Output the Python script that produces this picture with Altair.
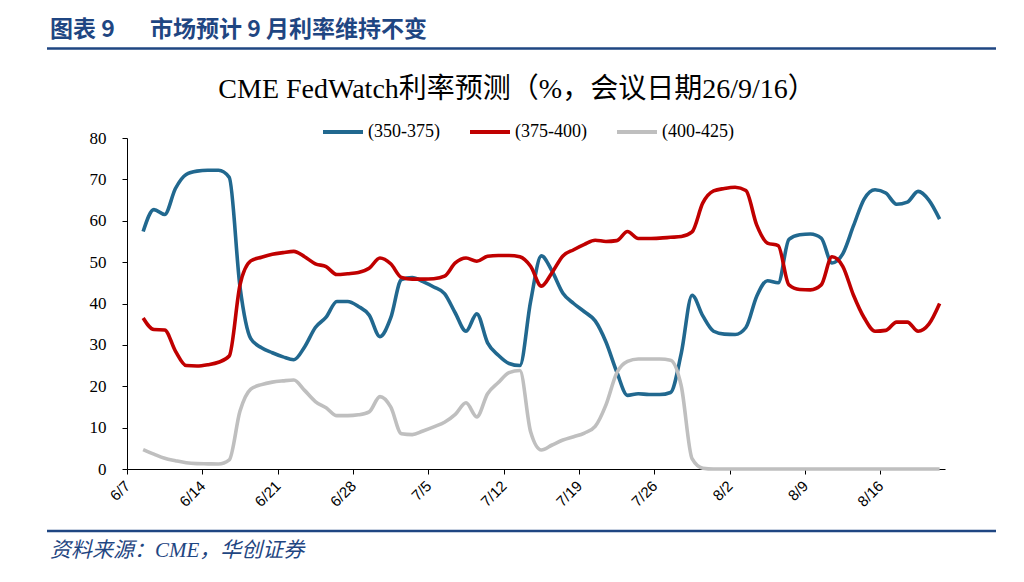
import altair as alt
import pandas as pd

# ---- data ----
dates = pd.date_range("2025-06-08", "2025-08-21", freq="D")
series_names = ["(350-375)", "(375-400)", "(400-425)"]
colors = ["#21688F", "#C00000", "#BFBFBF"]

p350_375 = [57.4, 62.7, 61.5, 67.8, 71.2, 72.0, 72.2, 72.2, 70.5, 44.0,
            31.5, 29.3, 28.1, 27.1, 26.4, 29.5, 34.2, 36.7, 40.5, 40.5,
            39.3, 37.2, 32.0, 36.5, 45.8, 46.3, 45.3, 44.0, 42.4, 37.7,
            33.3, 37.5, 30.5, 27.5, 25.5, 25.0, 40.5, 51.5, 47.8, 42.5,
            40.0, 38.0, 35.8, 30.7, 23.5, 17.8, 18.2, 18.0, 18.0, 18.5,
            28.0, 42.0, 37.0, 33.3, 32.6, 32.5, 34.2, 41.7, 45.5, 45.0,
            55.5, 56.6, 56.8, 55.8, 49.8, 52.0, 58.8, 65.3, 67.5, 66.7,
            64.0, 64.5, 67.1, 65.0, 60.4]
p375_400 = [36.5, 33.7, 33.6, 28.5, 25.0, 24.9, 25.2, 25.8, 27.3, 44.5,
            50.3, 51.2, 51.9, 52.3, 52.6, 51.3, 49.6, 48.9, 47.0, 47.2,
            47.5, 48.5, 51.0, 49.6, 46.3, 45.9, 45.9, 46.0, 46.6, 49.8,
            51.0, 50.2, 51.4, 51.6, 51.6, 51.3, 49.0, 44.2, 47.5, 51.5,
            53.0, 54.3, 55.3, 55.0, 55.2, 57.4, 55.7, 55.7, 55.8, 56.0,
            56.2, 57.3, 64.3, 67.2, 67.8, 68.1, 67.3, 59.0, 54.6, 54.0,
            44.5, 43.4, 43.3, 44.5, 51.3, 49.0, 42.0, 36.5, 33.3, 33.5,
            35.5, 35.5, 33.3, 35.0, 40.0]
p400_425 = [4.7, 3.6, 2.6, 2.0, 1.5, 1.3, 1.25, 1.2, 2.2, 14.0,
            19.3, 20.4, 21.0, 21.3, 21.5, 19.0, 16.3, 14.8, 12.9, 12.9,
            13.1, 13.8, 17.5, 15.0, 8.5, 8.3, 9.2, 10.2, 11.3, 13.2,
            16.0, 12.6, 18.2, 20.9, 23.3, 23.8, 9.0, 4.6, 5.8, 7.0,
            7.8, 8.7, 10.3, 15.5, 23.2, 26.0, 26.6, 26.6, 26.6, 26.3,
            20.0, 2.5, 0.2, 0.0, 0.0, 0.0, 0.0, 0.0, 0.0, 0.0,
            0.0, 0.0, 0.0, 0.0, 0.0, 0.0, 0.0, 0.0, 0.0, 0.0,
            0.0, 0.0, 0.0, 0.0, 0.0]

tick_days = [(6, 7), (6, 14), (6, 21), (6, 28), (7, 5), (7, 12), (7, 19),
             (7, 26), (8, 2), (8, 9), (8, 16)]
y_ticks = [0, 10, 20, 30, 40, 50, 60, 70, 80]

header_left = "图表 9"
header_right = "市场预计 9 月利率维持不变"
chart_title = "CME FedWatch利率预测（%，会议日期26/9/16）"
source_text = "资料来源：CME，华创证券"

# ---- build table ----
rows = []
for name, vals in zip(series_names, [p350_375, p375_400, p400_425]):
    for d, v in zip(dates, vals):
        # Excel date axis: each point sits in the middle of its day
        t = (d + pd.Timedelta(hours=12)).strftime("%Y-%m-%dT%H:%M:%S")
        rows.append({"date": t, "series": name, "value": v})
df = pd.DataFrame(rows)

navy = "#1F4682"
one = alt.Data(values=[{"k": 1}])

lines = alt.Chart(df).mark_line(interpolate="monotone", strokeWidth=3.6).encode(
    x=alt.X(
        "date:T",
        scale=alt.Scale(domain=[alt.DateTime(year=2025, month=6, date=7),
                                alt.DateTime(year=2025, month=8, date=22)]),
        axis=alt.Axis(
            values=[alt.DateTime(year=2025, month=m, date=d) for m, d in tick_days],
            format="%-m/%-d", title=None, grid=False,
            labelAngle=315, labelAlign="right", labelBaseline="middle",
            labelFont="Liberation Sans", labelFontSize=15, labelColor="black",
            labelPadding=9, tickSize=5, tickColor="black",
            domainColor="black", labelOverlap=False,
        ),
    ),
    y=alt.Y(
        "value:Q",
        scale=alt.Scale(domain=[0, 80], nice=False),
        axis=alt.Axis(
            values=y_ticks, title=None, grid=False,
            labelFont="Liberation Serif", labelFontSize=17, labelColor="black",
            labelPadding=16, tickSize=5, tickColor="black", domainColor="black",
        ),
    ),
    color=alt.Color(
        "series:N",
        scale=alt.Scale(domain=series_names, range=colors),
        legend=alt.Legend(
            title=None, orient="none", legendX=194, legendY=-28,
            direction="horizontal", symbolType="stroke", symbolSize=1600,
            symbolStrokeWidth=4, labelFont="Liberation Serif", labelFontSize=18,
            labelColor="black", labelOffset=3, columnPadding=22,
        ),
    ),
    order=alt.Order("series:N"),
)

def text_layer(txt, x, y, size, color, font, weight="normal", style="normal",
               align="left"):
    return alt.Chart(one).mark_text(
        text=txt, fontSize=size, color=color, font=font, fontWeight=weight,
        fontStyle=style, align=align, baseline="middle",
    ).encode(x=alt.value(x), y=alt.value(y))

def rule_layer(x1, x2, y, width, color):
    return alt.Chart(one).mark_rule(strokeWidth=width, color=color).encode(
        x=alt.value(x1), x2=alt.value(x2), y=alt.value(y))

hdr_font = "Noto Sans CJK SC"
layers = [
    text_layer(header_left, -77, -108, 23, navy, hdr_font, weight="bold"),
    text_layer(header_right, 23, -108, 23, navy, hdr_font, weight="bold"),
    rule_layer(-80, 869, -89.5, 2.6, navy),
    text_layer(chart_title, 390, -48, 28, "black",
               "Liberation Serif, Noto Sans CJK SC", align="center"),
    lines,
    rule_layer(-80, 869, 393, 2.6, navy),
    text_layer(source_text, -77, 413, 21, navy,
               "Liberation Serif, Noto Sans CJK SC", style="italic"),
]

chart = alt.layer(*layers).properties(
    width=818, height=331,
    autosize=alt.AutoSizeParams(type="none"),
    padding={"left": 119, "top": 130, "right": 60, "bottom": 95},
    background="white",
).configure_view(stroke=None)

chart.save("out.html", embed_options={"renderer": "svg", "actions": False})
